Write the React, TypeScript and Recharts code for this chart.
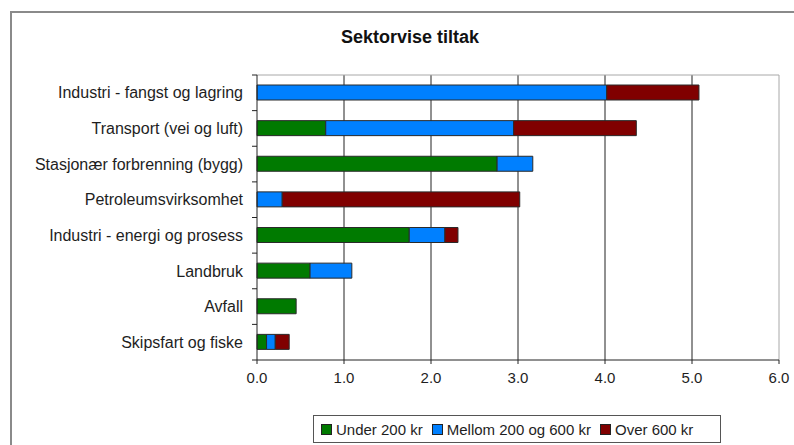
import React from "react";
import {
  BarChart, Bar, XAxis, YAxis, CartesianGrid, Legend, ReferenceLine,
} from "recharts";

// Sektorvise tiltak – stacked by cost class
const sectors = [
  "Industri - fangst og lagring",
  "Transport (vei og luft)",
  "Stasjonær forbrenning (bygg)",
  "Petroleumsvirksomhet",
  "Industri - energi og prosess",
  "Landbruk",
  "Avfall",
  "Skipsfart og fiske",
];
const under200 = [0, 0.79, 2.76, 0, 1.75, 0.61, 0.45, 0.11];
const mid200to600 = [4.02, 2.16, 0.41, 0.29, 0.41, 0.48, 0, 0.1];
const over600 = [1.06, 1.41, 0, 2.73, 0.15, 0, 0, 0.16];
const seriesNames = ["Under 200 kr", "Mellom 200 og 600 kr", "Over 600 kr"];
const xTicks = [0, 1, 2, 3, 4, 5, 6];

const data = sectors.map((name, i) => ({
  name,
  under: under200[i],
  mid: mid200to600[i],
  over: over600[i],
}));

const FONT = "'Liberation Sans', Arial, sans-serif";
const TEXT = "#1e1e1e";
const DARK = "#222";
const LABEL_GAP = 14;
const MARK = 5;

// category label plus tick marks on the band boundaries (Excel style)
function SectorTick(props: any) {
  const { x, y, payload, index, visibleTicksCount } = props;
  const half = payload.offset || 0;
  const ax = x + LABEL_GAP;
  return (
    <g>
      <line x1={ax - MARK} x2={ax} y1={y - half} y2={y - half} stroke={DARK} />
      {index === visibleTicksCount - 1 && (
        <line x1={ax - MARK} x2={ax} y1={y + half} y2={y + half} stroke={DARK} />
      )}
      <text x={x} y={y} dy="0.355em" textAnchor="end" fontSize={16} fill={TEXT} fontFamily={FONT}>
        {payload.value}
      </text>
    </g>
  );
}

function LegendBox(props: any) {
  const items = [...(props.payload || [])].sort(
    (a: any, b: any) => seriesNames.indexOf(a.value) - seriesNames.indexOf(b.value)
  );
  return (
    <div
      style={{
        border: "1px solid #555",
        height: 28,
        width: 408,
        boxSizing: "border-box",
        display: "flex",
        alignItems: "center",
        paddingLeft: 7,
        fontFamily: FONT,
        fontSize: 15,
        color: TEXT,
        background: "#fff",
      }}
    >
      {items.map((p: any) => (
        <span key={p.value} style={{ display: "flex", alignItems: "center", marginRight: 9 }}>
          <span
            style={{
              width: 9,
              height: 9,
              background: p.color,
              border: "1px solid #222",
              marginRight: 4,
            }}
          />
          {p.value}
        </span>
      ))}
    </div>
  );
}

export default function App() {
  return (
    <div
      style={{
        position: "absolute",
        left: 0,
        top: 0,
        width: 794,
        height: 445,
        overflow: "hidden",
        background: "#fff",
      }}
    >
      <div
        style={{
          position: "absolute",
          left: 10,
          top: 11,
          width: 900,
          height: 600,
          border: "2px solid #8a8a8a",
        }}
      />
      <div
        style={{
          position: "absolute",
          left: 410,
          top: 27,
          transform: "translateX(-50%)",
          fontFamily: FONT,
          fontWeight: "bold",
          fontSize: 18,
          color: "#111",
          whiteSpace: "nowrap",
        }}
      >
        Sektorvise tiltak
      </div>
      <div style={{ position: "absolute", left: 0, top: 0 }}>
        <BarChart
          width={794}
          height={445}
          data={data}
          layout="vertical"
          margin={{ top: 75, right: 15, bottom: 55, left: 12 }}
        >
          <CartesianGrid
            horizontal={false}
            vertical
            stroke={DARK}
            verticalValues={xTicks.filter((t) => t > 0 && t < 6)}
          />
          <XAxis
            type="number"
            domain={[0, 6]}
            ticks={xTicks}
            tickFormatter={(v: number) => v.toFixed(1)}
            axisLine={{ stroke: DARK }}
            tickLine={{ stroke: DARK }}
            tickSize={4}
            tickMargin={8}
            height={30}
            tick={{ fontSize: 15, fill: TEXT, fontFamily: FONT }}
          />
          <YAxis
            type="category"
            dataKey="name"
            width={245}
            axisLine={{ stroke: DARK }}
            tickLine={false}
            tickSize={0}
            tickMargin={LABEL_GAP}
            interval={0}
            tick={<SectorTick />}
          />
          <ReferenceLine x={6} stroke="#a8a8a8" />
          <ReferenceLine
            segment={[{ x: 0, y: sectors[0] }, { x: 6, y: sectors[0] }]}
            stroke="#a8a8a8"
            position="start"
          />
          <Legend
            layout="horizontal"
            verticalAlign="middle"
            align="center"
            wrapperStyle={{ left: 313, top: 415, width: 408 }}
            content={(props: any) => <LegendBox {...props} />}
          />
          <Bar dataKey="under" name={seriesNames[0]} stackId="a" fill="#007a00" stroke="#2a2a2a" strokeWidth={1} barSize={15} isAnimationActive={false} />
          <Bar dataKey="mid" name={seriesNames[1]} stackId="a" fill="#0080ff" stroke="#2a2a2a" strokeWidth={1} barSize={15} isAnimationActive={false} />
          <Bar dataKey="over" name={seriesNames[2]} stackId="a" fill="#800000" stroke="#2a2a2a" strokeWidth={1} barSize={15} isAnimationActive={false} />
        </BarChart>
      </div>
    </div>
  );
}
